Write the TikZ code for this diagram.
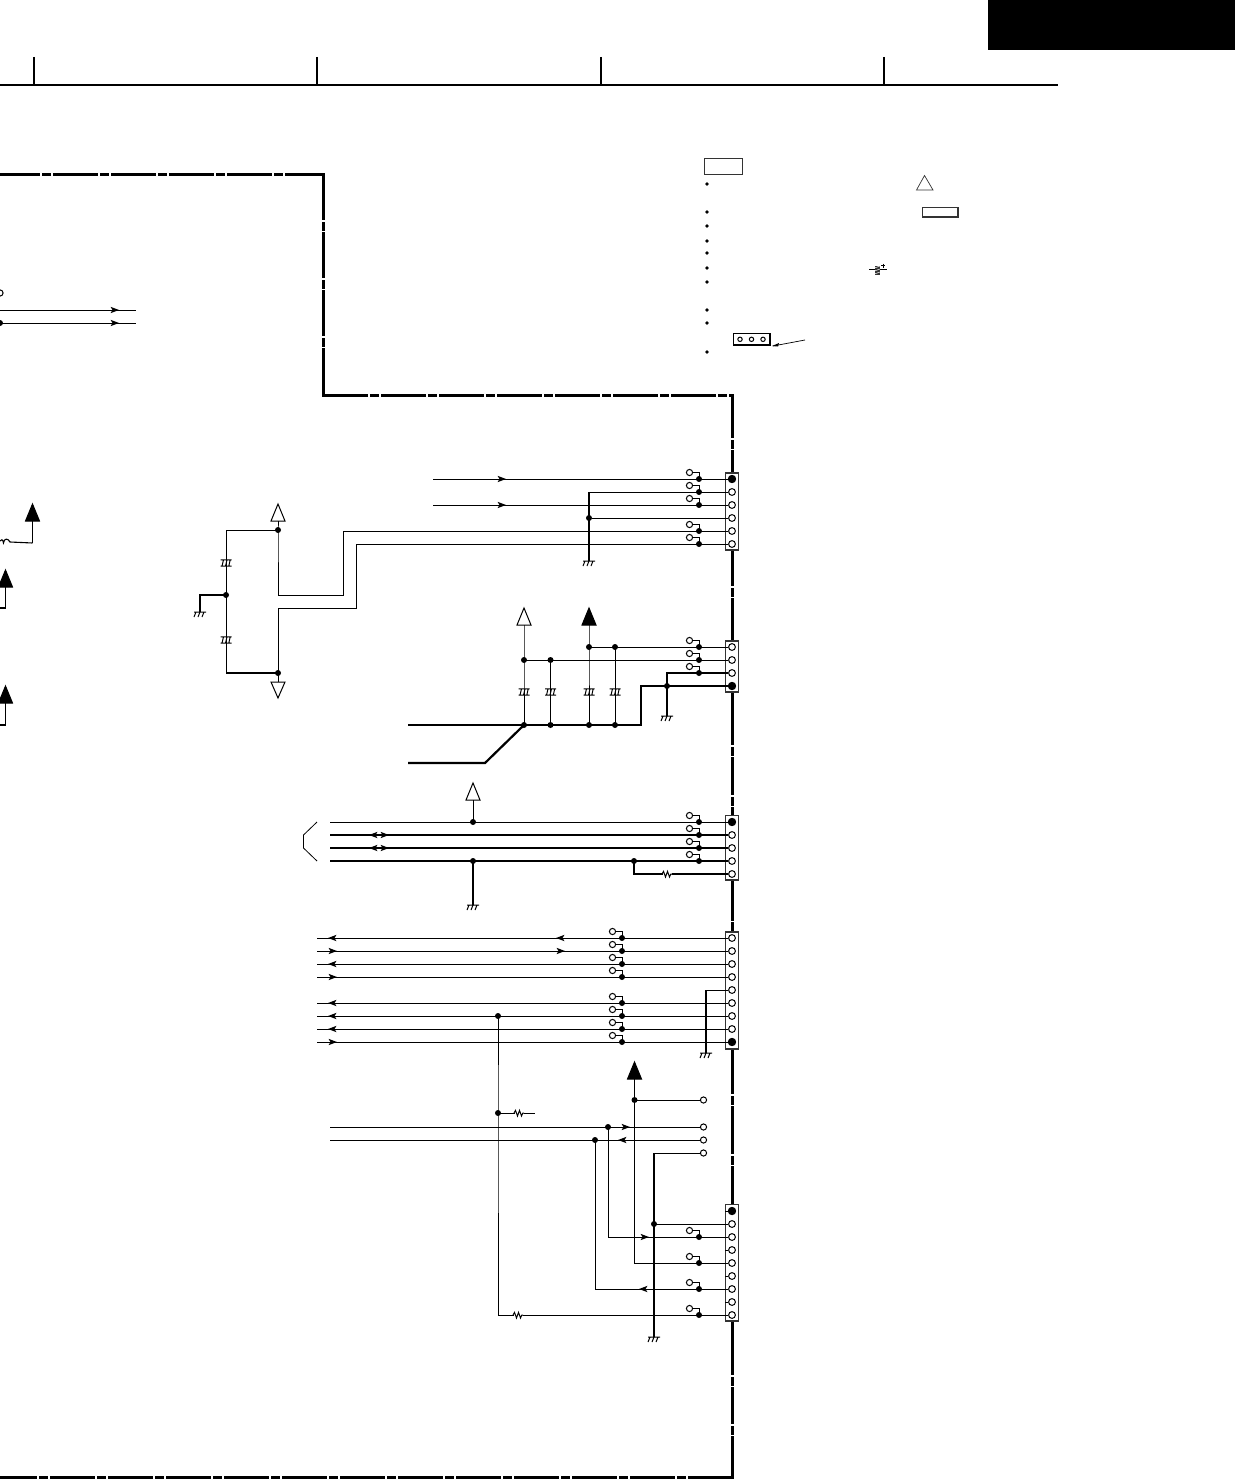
\documentclass[tikz,border=0pt]{standalone}
\usetikzlibrary{calc}
\definecolor{paper}{rgb}{1,1,1}
\definecolor{inkb}{gray}{0.2}
\tikzset{
  wire/.style={line width=.85pt,line cap=butt,line join=miter},
  bus/.style={line width=2.2pt,line cap=butt,line join=miter},
  frameline/.style={line width=3pt,line join=miter},
  gapline/.style={draw=paper,line width=1.4pt},
  dotn/.style={circle,fill=black,inner sep=0pt,minimum size=6pt},
  pino/.style={circle,draw=black,fill=paper,line width=1pt,inner sep=0pt,minimum size=6.8pt},
  pinf/.style={circle,draw=black,fill=black,line width=.9pt,inner sep=0pt,minimum size=7.4pt},
  tpn/.style={circle,draw=black,fill=paper,line width=1pt,inner sep=0pt,minimum size=6.2pt},
  connbox/.style={draw=inkb,fill=paper,line width=1.1pt},
  triopen/.style={draw=black,fill=paper,line width=1pt,line join=miter},
  trifill/.style={draw=black,fill=black,line width=1pt,line join=miter},
}
\newcommand{\tpt}[3]{%
  \node[dotn] (#1) at (#2,#3) {};
  \node[tpn] (#1o) at ({#2-9.5},{#3-6.5}) {};
  \draw[wire] (#1o.east) -| (#1.center);}
\newcommand{\gnd}[3]{%
  \coordinate (#1) at (#2,#3);
  \draw[line width=1pt,shift={(#1)}] (-6,0)--(6,0) (-4,0)--(-6,5) (0,0)--(-2,5) (4,0)--(2,5);}
\newcommand{\capa}[2]{%
  \draw[line width=1pt,shift={(#1,#2)}] (-5.5,-3.2)--(5.5,-3.2) (-5.5,3.2)--(5.5,3.2)
    (-2.5,-3.2)--(-4,3.2) (1,-3.2)--(-.5,3.2) (4.2,-3.2)--(2.8,3.2);}
\newcommand{\resi}[2]{%
  \draw[draw=paper,line width=2pt,shift={(#1,#2)}] (-4.5,0)--(4.5,0);
  \draw[line width=1pt,shift={(#1,#2)}] (-5,0)--(-3.5,-2.6)--(-1.5,3)--(.5,-2.6)--(2.5,3)--(3.8,0)--(5,0);}
\newcommand{\arrR}[2]{\fill[shift={(#1,#2)}] (5,0)--(-3.5,-3.2)--(-1.5,0)--(-3.5,3.2)--cycle;}
\newcommand{\arrL}[2]{\fill[shift={(#1,#2)}] (-5,0)--(3.5,-3.2)--(1.5,0)--(3.5,3.2)--cycle;}
\newcommand{\triup}[4]{% name, style, x, apex y
  \draw[#2] (#3,#4)--({#3+7},{#4+17})--({#3-7},{#4+17})--cycle;
  \coordinate (#1) at (#3,{#4+17});}
\newcommand{\frameH}[2]{\draw[gapline] (#2,{#1-2})--(#2,{#1+2}) ({#2+11},{#1-2})--({#2+11},{#1+2});}
\newcommand{\frameV}[2]{\draw[gapline] ({#1-2},#2)--({#1+2},#2) ({#1-2},{#2+10.5})--({#1+2},{#2+10.5});}
\begin{document}
\begin{tikzpicture}[x=1pt,y=-1pt]
\clip (0,0) rectangle (1235,1479);
\useasboundingbox (0,0) rectangle (1235,1479);
% header
\fill[black] (988,0) rectangle (1235,50);
\coordinate (hl) at (0,85); \coordinate (hr) at (1058,85);
\draw[line width=1.6pt] (hl)--(hr);
\foreach \xa in {34,317,601,884} {\draw[line width=1.2pt] (\xa,57)--(\xa,85);}
% frame
\draw[frameline] (0,174.3)--(323.3,174.3)--(323.3,395)--(732.7,395)--(732.7,1477)--(0,1477);
\foreach \xa in {41,99,157,215,273} {\frameH{174.3}{\xa}}
\foreach \ya in {221,279,337} {\frameV{323.3}{\ya}}
\foreach \xa in {369,427,485,543,601,659,717} {\frameH{395}{\xa}}
\foreach \ya in {439,587,746,796,921.5,1095,1155,1376,1425} {\frameV{732.7}{\ya}}
\foreach \xa in {38,96,154,212,270,328,386,444,502,560,618,676} {\frameH{1477}{\xa}}
% legend
\draw[line width=1pt,draw=inkb] (704,158.5) rectangle (742.5,174.5);
\foreach \ya in {184,212,226,241,253,268,282,310,323,352} {\fill (707,\ya) circle (1.8);}
\draw[line width=.7pt,draw=inkb] (924.5,175.5)--(933,190)--(916.5,190)--cycle;
\draw[line width=1.3pt,draw=inkb] (922.5,207.5) rectangle (958,217);
\draw[line width=.8pt] (869,269.7)--(887,269.7);
\fill[inkb] (874.5,265.5) rectangle (880,275);
\draw[draw=paper,line width=.5pt] (874.5,268)--(880,266) (874.5,271)--(880,269) (874.5,274)--(880,272);
\draw[line width=.7pt] (883,263.5)--(883,267.5) (881,265.5)--(885,265.5);
% legend connector
\draw[line width=1.1pt,fill=paper] (733.5,333.5) rectangle (770,345);
\fill (735,344) rectangle (770,346);
\foreach \xa in {740,751.5,763} {\draw[line width=1pt] (\xa,339.3) circle (2.2);}
\coordinate (la) at (805,340); \coordinate (lb) at (773,346);
\draw[line width=.7pt] (la)--(lb);
\fill (772,346)--(779,343)--(778,346.5)--cycle;

% connector 1
\draw[connbox] (725.5,473) rectangle (738.5,550);
\foreach \ya/\s [count=\n] in {479/pinf,492/pino,505/pino,518/pino,531/pino,544/pino}
  {\node[\s] (a\n) at (732,\ya) {};}
\tpt{ta1}{699}{479} \tpt{ta2}{699}{492} \tpt{ta3}{699}{505} \tpt{ta5}{699}{531} \tpt{ta6}{699}{544}
\node[dotn] (ja) at (589,518) {};
\coordinate (as1) at (433,479); \coordinate (as3) at (433,505);
\coordinate (ac2) at (589,492);
\gnd{ga}{589}{561}
\draw[wire] (as1)--(a1);
\draw[wire] (as3)--(a3);
\draw[wire] (a2)--(ac2);
\draw[wire] (a4)--(ja);
\draw[bus,line width=1.5pt] (ac2)--(ja.center)--(ga);
\arrR{501}{479} \arrR{501}{505}

% supply block
\triup{tu1}{triopen}{278}{504}
\node[dotn] (j1) at (278,530) {};
\node[dotn] (j2) at (278,673) {};
\node[dotn] (j3) at (226,595) {};
\draw[triopen] (278,698)--(285,682)--(271,682)--cycle;
\coordinate (td0) at (278,682);
\coordinate (c1) at (226,530); \coordinate (c2) at (226,673);
\coordinate (s1) at (278,595); \coordinate (s2) at (343.5,595); \coordinate (s3) at (343.5,531);
\coordinate (r1) at (278,608); \coordinate (r2) at (356,608); \coordinate (r3) at (356,544);
\draw[wire] (tu1)--(j1.center)--(s1)--(s2)--(s3)--(a5);
\draw[wire] (j2.center)--(r1)--(r2)--(r3)--(a6);
\draw[wire] (td0)--(j2.center);
\draw[wire] (j1.center)--(c1)--(c2);
\draw[bus,line width=1.6pt] (c2)--(j2.center);
\capa{226}{563} \capa{226}{640}
\gnd{gb}{200}{612}
\coordinate (gbc) at (200,595);
\draw[bus] (j3.center)--(gbc)--(gb);

% connector 2
\draw[connbox] (725.5,641) rectangle (738.5,692);
\foreach \ya/\s [count=\n] in {647/pino,660/pino,673/pino,686/pinf}
  {\node[\s] (b\n) at (732,\ya) {};}
\tpt{tb1}{699}{647} \tpt{tb2}{699}{660} \tpt{tb3}{699}{673}
\triup{tu2}{triopen}{524}{608}
\triup{tu3}{trifill}{589}{608}
\node[dotn] (k1) at (524,660) {};
\node[dotn] (k2) at (550.5,660) {};
\node[dotn] (k3) at (589,647) {};
\node[dotn] (k4) at (615,647) {};
\node[dotn] (m1) at (524,725) {};
\node[dotn] (m2) at (550.5,725) {};
\node[dotn] (m3) at (589,725) {};
\node[dotn] (m4) at (615,725) {};
\node[dotn] (k5) at (667,686) {};
\draw[wire] (b1)--(k3.center);
\draw[wire] (b2)--(k1.center);
\draw[wire] (tu2)--(k1.center)--(m1.center);
\draw[wire] (k2.center)--(m2.center);
\draw[wire] (tu3)--(k3.center)--(m3.center);
\draw[wire] (k4.center)--(m4.center);
\coordinate (bc1) at (641,686); \coordinate (bc2) at (641,725);
\coordinate (bc3) at (408,725); \coordinate (bc4) at (485,763); \coordinate (bc5) at (408,763);
\coordinate (bc6) at (667,673);
\draw[bus] (b4)--(bc1)--(bc2)--(bc3);
\draw[bus] (m1.center)--(bc4)--(bc5);
\draw[bus] (b3)--(bc6)--(k5.center);
\gnd{gc}{667}{716}
\draw[wire,line width=1.2pt] (k5.center)--(gc);
\capa{524}{692} \capa{550.5}{692} \capa{589}{692} \capa{615}{692}

% connector 3
\draw[connbox] (725.5,815.5) rectangle (738.5,880);
\foreach \ya/\s [count=\n] in {822/pinf,835/pino,848/pino,861/pino,874/pino}
  {\node[\s] (c\n) at (732,\ya) {};}
\tpt{tc1}{699}{822} \tpt{tc2}{699}{835} \tpt{tc3}{699}{848} \tpt{tc4}{699}{861}
\triup{tu4}{triopen}{473}{783}
\node[dotn] (n1) at (473,822) {};
\node[dotn] (n2) at (473,861) {};
\node[dotn] (n3) at (634,861) {};
\foreach \n/\ya in {1/822,2/835,3/848,4/861} {\coordinate (cs\n) at (330,\ya);}
\draw[wire] (cs1)--(c1);
\draw[bus,line width=2pt] (cs2)--(c2);
\draw[bus,line width=2pt] (cs3)--(c3);
\draw[bus,line width=2pt] (cs4)--(c4);
\draw[wire] (tu4)--(n1.center);
\gnd{gd}{473}{905}
\draw[bus,line width=2.6pt] (n2.center)--(gd);
\coordinate (cc5) at (634,874);
\draw[wire,line width=1.2pt] (n3.center)--(cc5)--(c5);
\resi{667}{874}
\arrL{374}{835} \arrR{384}{835} \arrL{374}{848} \arrR{384}{848}
\coordinate (br1) at (317,822); \coordinate (br2) at (303.5,835); \coordinate (br3) at (303.5,848); \coordinate (br4) at (317,861);
\draw[line width=.8pt] (br1)--(br2)--(br3)--(br4);

% connector 4
\draw[connbox] (725.5,932) rectangle (738.5,1049);
\foreach \ya/\s [count=\n] in {938/pino,951/pino,964/pino,977/pino,990/pino,1003/pino,1016/pino,1029/pino,1042/pinf}
  {\node[\s] (d\n) at (732,\ya) {};}
\tpt{td1}{622}{938} \tpt{td2}{622}{951} \tpt{td3}{622}{964} \tpt{td4}{622}{977}
\tpt{td6}{622}{1003} \tpt{td7}{622}{1016} \tpt{td8}{622}{1029} \tpt{td9}{622}{1042}
\foreach \n/\ya in {1/938,2/951,3/964,4/977,6/1003,7/1016,8/1029,9/1042} {
  \coordinate (ds\n) at (317,\ya);
  \draw[wire] (ds\n)--(d\n);
}
\foreach \ya in {938,964,1003,1016,1029} {\arrL{333}{\ya}}
\foreach \ya in {951,977,1042} {\arrR{332}{\ya}}
\arrL{561}{938} \arrR{560}{951}
\coordinate (dc5) at (706,990);
\gnd{ge}{706}{1053}
\draw[wire] (d5)--(dc5);
\draw[wire,line width=1.4pt] (dc5)--(ge);

% connector 5
\draw[connbox] (725.5,1204.5) rectangle (738.5,1321);
\foreach \ya/\s [count=\n] in {1211/pinf,1224/pino,1237/pino,1250/pino,1263/pino,1276/pino,1289/pino,1302/pino,1315/pino}
  {\node[\s] (e\n) at (732,\ya) {};}
\foreach \n in {1,4,6,8} {\draw[line width=.7pt] (e\n.west)--++(-3,0);}
\tpt{te3}{699}{1237} \tpt{te5}{699}{1263} \tpt{te7}{699}{1289} \tpt{te9}{699}{1315}
\node[dotn] (q0) at (498,1016) {};
\node[dotn] (q1) at (498,1113) {};
\node[dotn] (q2) at (634.5,1100) {};
\node[dotn] (q3) at (608,1127) {};
\node[dotn] (q4) at (595,1140) {};
\node[dotn] (q5) at (654,1224) {};
\node[tpn] (o1) at (703.5,1100) {};
\node[tpn] (o2) at (703.5,1127) {};
\node[tpn] (o3) at (703.5,1140) {};
\node[tpn] (o4) at (703.5,1153) {};
\triup{tu5}{trifill}{634.5}{1062}
\coordinate (w1) at (330,1127); \coordinate (w2) at (330,1140);
\coordinate (q1r) at (535,1113);
\draw[wire] (w1)--(o2);
\draw[wire] (w2)--(o3);
\draw[wire] (q2.center)--(o1);
\draw[wire] (tu5)--(q2.center)--(634.5,1263)--(e5);
\draw[wire] (q1.center)--(q1r);
\draw[wire] (q0.center)--(q1.center)--(498,1315)--(e9);
\draw[wire] (q3.center)--(608,1237)--(e3);
\draw[wire] (q4.center)--(595,1289)--(e7);
\draw[wire] (q5.center)--(e2);
\gnd{gf}{654}{1337}
\coordinate (qc) at (654,1153);
\draw[wire] (o4)--(qc);
\draw[bus,line width=2pt] (qc)--(q5.center)--(gf);
\resi{519}{1113} \resi{518}{1315}
\arrR{625}{1127} \arrL{623}{1140} \arrR{644}{1237} \arrL{644}{1289}

% left edge
\coordinate (l1) at (0,310); \coordinate (l1r) at (136,310);
\coordinate (l2) at (0,323); \coordinate (l2r) at (136,323);
\draw[wire] (l1)--(l1r);
\draw[wire] (l2)--(l2r);
\arrR{114}{310} \arrR{114}{323}
\node[dotn] (ld) at (0,323) {};
\node[tpn] (lt) at (0,293) {};
\triup{tu6}{trifill}{32.5}{504}
\triup{tu7}{trifill}{5.5}{570}
\triup{tu8}{trifill}{5.5}{686}
\draw[line width=1.1pt] (0,541) .. controls (1,539) and (3,539) .. (3.5,543) .. controls (4,538) and (8,538) .. (10,542) -- (32.5,543);
\draw[bus,line width=1.5pt] (32.5,543)--(tu6);
\draw[bus,line width=1.5pt] (tu7)--(5.5,608)--(0,608);
\draw[bus,line width=1.5pt] (tu8)--(5.5,725)--(0,725);
\end{tikzpicture}
\end{document}
